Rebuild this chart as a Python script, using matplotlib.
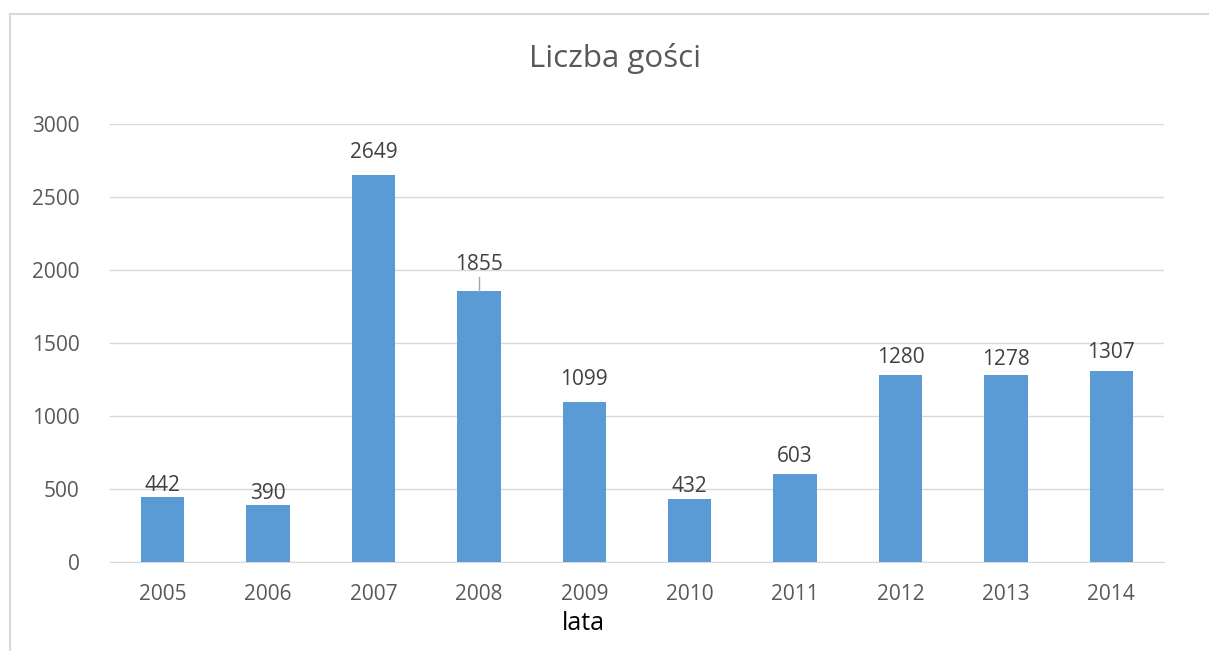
import matplotlib.pyplot as plt
from matplotlib.lines import Line2D

lata = ['2005', '2006', '2007', '2008', '2009', '2010', '2011', '2012', '2013', '2014']
goscie = [442, 390, 2649, 1855, 1099, 432, 603, 1280, 1278, 1307]

# odsuniecie etykiet od szczytu slupka (px), jak w oryginale
odstep = [14, 14, 25, 29, 24, 14, 19, 20, 18, 21]

plt.rcParams['font.family'] = ['Open Sans', 'DejaVu Sans']

fig = plt.figure(figsize=(12.09, 6.51), dpi=100)
ax = fig.add_axes([110 / 1209, 1 - 562 / 651, 1054 / 1209, 438 / 651])

x = list(range(len(lata)))
ax.bar(x, goscie, width=0.41, color='#5B9BD5', zorder=3)

for xi, v, d in zip(x, goscie, odstep):
    ax.annotate(str(v), (xi, v), xytext=(0, (d - 2) * 0.72), textcoords='offset points',
                ha='center', va='center', fontsize=15, color='#404040')

# linia odniesienia przy etykiecie 1855
i = goscie.index(1855)
ax.plot([i, i], [1855, 1855 + 95], color='#A6A6A6', lw=1, zorder=4)

ax.set_xlim(-0.5, len(lata) - 0.5)
ax.set_ylim(0, 3000)
ax.set_yticks(range(0, 3001, 500))
ax.set_xticks(x)
ax.set_xticklabels(lata)
ax.tick_params(axis='both', length=0, labelsize=15, colors='#595959')
ax.tick_params(axis='y', pad=22)
ax.tick_params(axis='x', pad=16)
ax.grid(axis='y', color='#D9D9D9', lw=1, zorder=0)
for s in ['top', 'right', 'left']:
    ax.spines[s].set_visible(False)
ax.spines['bottom'].set_color('#D9D9D9')

fig.text(583 / 1209, 1 - 623 / 651, 'lata', ha='center', va='center',
         fontsize=18, color='black')
fig.text(615 / 1209, 1 - 58 / 651, 'Liczba gości', ha='center', va='center',
         fontsize=22.5, color='#595959')

# obramowanie wykresu
fig.add_artist(Line2D([10 / 1209, 1], [1 - 14 / 651, 1 - 14 / 651], color='#D9D9D9', lw=1.5))
fig.add_artist(Line2D([10 / 1209, 10 / 1209], [0, 1 - 14 / 651], color='#D9D9D9', lw=1.5))

fig.savefig('out.png', dpi=100)
